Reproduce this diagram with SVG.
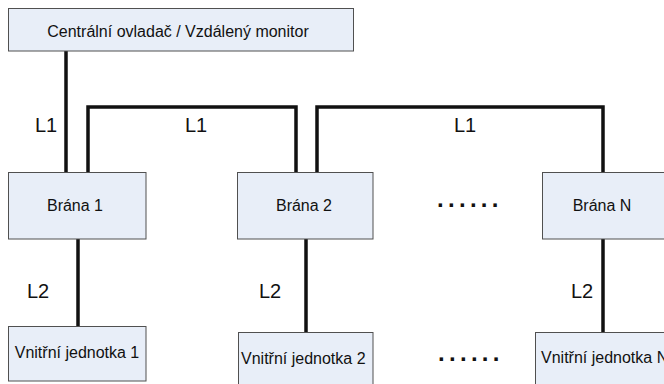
<svg xmlns="http://www.w3.org/2000/svg" width="664" height="384" viewBox="0 0 664 384">
<style>
.box{fill:#E8EEF8;stroke:#505050;stroke-width:1}
.t{font-family:"Liberation Sans",Arial,sans-serif;font-size:16px;fill:#111}
.lbl{font-family:"Liberation Sans",Arial,sans-serif;font-size:20px;fill:#111}
.dots{font-family:"Liberation Sans",Arial,sans-serif;font-size:24px;font-weight:bold;fill:#111;letter-spacing:4.3px}
.c{fill:none;stroke:#111;stroke-width:3.5;stroke-linejoin:miter}
</style>
<rect width="664" height="384" fill="#fff"/>
<g id="connectors">
<path class="c" d="M66 51V172"/>
<path class="c" d="M88 172V107H296V172"/>
<path class="c" d="M317 172V107H603V172"/>
<path class="c" d="M78 239V326"/>
<path class="c" d="M306 239V332"/>
<path class="c" d="M603 239V332"/>
</g>
<g id="labels">
<text class="lbl" x="35" y="132">L1</text>
<text class="lbl" x="185" y="132">L1</text>
<text class="lbl" x="454" y="132">L1</text>
<text class="lbl" x="27" y="298">L2</text>
<text class="lbl" x="259" y="298">L2</text>
<text class="lbl" x="571" y="298">L2</text>
<text class="dots" x="437" y="207">......</text>
<text class="dots" x="438" y="361">......</text>
</g>
<g id="central">
<rect class="box" x="8.5" y="8.5" width="345" height="42.5"/>
<text class="t" x="178" y="37" text-anchor="middle">Centrální ovladač / Vzdálený monitor</text>
</g>
<g id="brana1">
<rect class="box" x="8.5" y="172.5" width="137.5" height="66.5"/>
<text class="t" x="75" y="211" text-anchor="middle">Brána 1</text>
</g>
<g id="brana2">
<rect class="box" x="237.5" y="172.5" width="135.5" height="66.5"/>
<text class="t" x="304" y="211" text-anchor="middle">Brána 2</text>
</g>
<g id="branaN">
<rect class="box" x="542.5" y="172.5" width="130" height="66.5"/>
<text class="t" x="602" y="211" text-anchor="middle">Brána N</text>
</g>
<g id="jednotka1">
<rect class="box" x="8.5" y="326.5" width="137.5" height="54.5"/>
<text class="t" x="77" y="358" text-anchor="middle">Vnitřní jednotka 1</text>
</g>
<g id="jednotka2">
<rect class="box" x="238.5" y="332.5" width="134.5" height="60"/>
<text class="t" x="241" y="364">Vnitřní jednotka 2</text>
</g>
<g id="jednotkaN">
<rect class="box" x="535.5" y="332.5" width="140" height="60"/>
<text class="t" x="541" y="363">Vnitřní jednotka N</text>
</g>
</svg>
